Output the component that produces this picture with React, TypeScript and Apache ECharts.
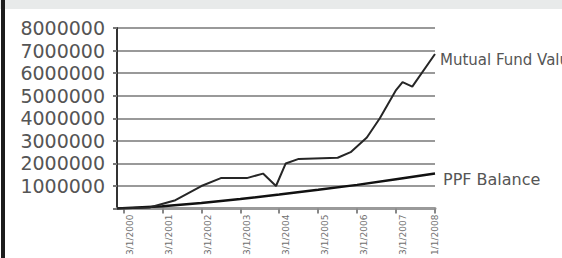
import React, { useEffect, useRef } from "react";
import * as echarts from "echarts";

// Monthly categories, Nov 1999 .. Jan 2008
const startYear = 1999;
const startMonth = 11;
const monthCount = 99;
const categories: string[] = [];
for (let i = 0; i < monthCount; i++) {
  const m = ((startMonth - 1 + i) % 12) + 1;
  const y = startYear + Math.floor((startMonth - 1 + i) / 12);
  categories.push(`${m}/1/${y}`);
}

const yTicks = [0, 1000000, 2000000, 3000000, 4000000, 5000000, 6000000, 7000000, 8000000];

// Mutual fund value: month index -> value
const mfMonths = [0, 10, 18, 26, 32, 40, 45, 49, 52, 56, 68, 72, 77, 81, 86, 88, 91, 98];
const mfValues = [0, 50000, 370000, 1000000, 1350000, 1350000, 1550000, 1000000, 2000000, 2200000, 2250000, 2500000, 3150000, 4000000, 5250000, 5600000, 5400000, 6850000];

// PPF balance
const ppfMonths = [0, 14, 26, 38, 50, 62, 74, 86, 98];
const ppfValues = [0, 100000, 250000, 420000, 620000, 830000, 1050000, 1300000, 1550000];

const seriesNames = ["Mutual Fund Value", "PPF Balance"];

export default function App() {
  const ref = useRef<HTMLDivElement>(null);
  useEffect(() => {
    if (!ref.current) return;
    const chart = echarts.init(ref.current, undefined, { renderer: "svg" });
    const mfData = mfMonths.map((m, i) => [categories[m], mfValues[i]]);
    const ppfData = ppfMonths.map((m, i) => [categories[m], ppfValues[i]]);
    chart.setOption({
      animation: false,
      backgroundColor: "#ffffff",
      textStyle: { fontFamily: "DejaVu Sans" },
      graphic: [
        { type: "rect", left: 0, top: 0, shape: { width: 562, height: 9 }, style: { fill: "#e8eaea" }, z: 0 },
        { type: "rect", left: 1, top: 0, shape: { width: 4, height: 258 }, style: { fill: "#1c1c1c" }, z: 1 },
      ],
      grid: { left: 117, right: 127, top: 28, bottom: 49, containLabel: false },
      xAxis: {
        type: "category",
        data: categories,
        boundaryGap: false,
        axisLine: { show: true, lineStyle: { color: "#9a9a9a", width: 3 } },
        axisTick: {
          show: true,
          length: 5,
          interval: (idx: number) => idx % 12 === 2,
          lineStyle: { color: "#888", width: 2 },
        },
        axisLabel: {
          show: true,
          rotate: 90,
          fontSize: 9,
          color: "#707070",
          margin: 6,
          interval: (idx: number) => idx % 12 === 4 || idx === 98,
        },
        splitLine: { show: false },
      },
      yAxis: {
        type: "value",
        min: yTicks[0],
        max: yTicks[yTicks.length - 1],
        interval: 1000000,
        axisLine: { show: true, lineStyle: { color: "#333", width: 2 } },
        axisTick: { show: true, length: 4, lineStyle: { color: "#777", width: 2 } },
        axisLabel: {
          fontSize: 19,
          color: "#555",
          margin: 12,
          fontFamily: "DejaVu Sans",
          formatter: (v: number) => (v === 0 ? "" : String(v)),
        },
        splitLine: { show: true, lineStyle: { color: "#999", width: 2, type: "solid" } },
      },
      series: [
        {
          name: seriesNames[1],
          type: "line",
          data: ppfData,
          symbol: "none",
          lineStyle: { color: "#111", width: 2.5 },
          z: 3,
          endLabel: {
            show: true,
            formatter: "{a}",
            fontSize: 16,
            color: "#555",
            distance: 8,
            offset: [0, 6],
            fontFamily: "DejaVu Sans",
          },
        },
        {
          name: seriesNames[0],
          type: "line",
          data: mfData,
          symbol: "none",
          lineStyle: { color: "#262626", width: 2 },
          z: 4,
          endLabel: {
            show: true,
            formatter: "{a}",
            fontSize: 15,
            color: "#555",
            distance: 5,
            offset: [0, 6],
            fontFamily: "DejaVu Sans",
          },
        },
      ],
    });
    return () => chart.dispose();
  }, []);
  return (
    <div
      ref={ref}
      style={{ position: "fixed", left: 0, top: 0, width: 562, height: 258 }}
    />
  );
}
